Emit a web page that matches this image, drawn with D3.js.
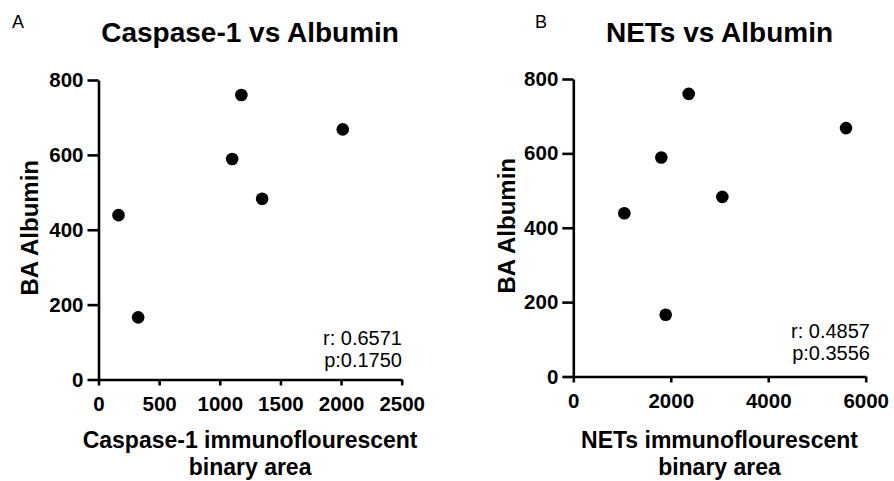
<!DOCTYPE html>
<html>
<head>
<meta charset="utf-8">
<script src="https://cdn.jsdelivr.net/npm/d3@7"></script>
<style>
  body { margin: 0; background: #fff; }
  text { font-family: "Liberation Sans", Arial, Helvetica, sans-serif; fill: #000; }
</style>
</head>
<body>
<svg id="chart" width="894" height="481"></svg>
<script>
"use strict";

// values
var albumin = [439, 166, 589, 760, 483, 668];
var caspase1 = [165, 327, 1102, 1178, 1349, 2014];
var nets = [1047, 1896, 1806, 2368, 3058, 5596];

var yTicks = [0, 200, 400, 600, 800];
var caspaseTicks = [0, 500, 1000, 1500, 2000, 2500];
var netsTicks = [0, 2000, 4000, 6000];

var caspaseStats = ["r: 0.6571", "p:0.1750"];
var netsStats = ["r: 0.4857", "p:0.3556"];

var svg = d3.select("#chart");

function drawPanel(opt) {
  var x = d3.scaleLinear().domain([0, opt.xMax]).range([opt.left, opt.right]);
  var y = d3.scaleLinear().domain([0, 800]).range([opt.bottom, opt.top]);
  var g = svg.append("g");

  g.append("text")
    .attr("x", opt.letterX)
    .attr("y", 28)
    .style("font-size", "18px")
    .text(opt.letter);

  g.append("text")
    .attr("x", (opt.left + opt.right) / 2)
    .attr("y", 42)
    .attr("text-anchor", "middle")
    .style("font-size", "28px")
    .style("font-weight", "bold")
    .text(opt.title);

  var yAxis = g.append("g")
    .attr("transform", "translate(" + opt.left + ",0)")
    .call(d3.axisLeft(y).tickValues(yTicks).tickFormat(d3.format("d"))
      .tickSize(11).tickPadding(4).tickSizeOuter(0));

  var xAxis = g.append("g")
    .attr("transform", "translate(0," + opt.bottom + ")")
    .call(d3.axisBottom(x).tickValues(opt.xTicks).tickFormat(d3.format("d"))
      .tickSize(6).tickPadding(11).tickSizeOuter(0));

  [xAxis, yAxis].forEach(function(ax) {
    ax.selectAll("path, line").attr("stroke", "#000").attr("stroke-width", 2.6);
    ax.selectAll("text")
      .attr("fill", "#000")
      .style("font-size", "20.5px")
      .style("font-weight", "bold")
      .style("font-family", '"Liberation Sans", Arial, Helvetica, sans-serif');
  });

  g.append("text")
    .attr("transform", "translate(" + opt.yLabelX + "," + ((opt.top + opt.bottom) / 2 - 2) + ") rotate(-90)")
    .attr("text-anchor", "middle")
    .style("font-size", "24px")
    .style("font-weight", "bold")
    .text("BA Albumin");

  g.selectAll(".xlabel")
    .data(opt.xLabel)
    .enter().append("text")
    .attr("class", "xlabel")
    .attr("x", (opt.left + opt.right) / 2)
    .attr("y", function(d, i) { return 448 + i * 26.5; })
    .attr("text-anchor", "middle")
    .style("font-size", "23px")
    .style("font-weight", "bold")
    .text(function(d) { return d; });

  g.selectAll(".dot")
    .data(opt.xs)
    .enter().append("circle")
    .attr("class", "dot")
    .attr("cx", function(d) { return x(d); })
    .attr("cy", function(d, i) { return y(albumin[i]); })
    .attr("r", 6.3)
    .attr("fill", "#000");

  g.selectAll(".stat")
    .data(opt.stats)
    .enter().append("text")
    .attr("class", "stat")
    .attr("x", opt.statX)
    .attr("y", function(d, i) { return opt.statY + i * 22; })
    .attr("text-anchor", "end")
    .style("font-size", "20px")
    .text(function(d) { return d; });
}

drawPanel({
  letter: "A", letterX: 12, title: "Caspase-1 vs Albumin",
  left: 98.5, right: 401.7, top: 80, bottom: 379.5,
  xMax: 2500, xTicks: caspaseTicks, xs: caspase1,
  yLabelX: 38, xLabel: ["Caspase-1 immunoflourescent", "binary area"],
  stats: caspaseStats, statX: 402, statY: 345
});

drawPanel({
  letter: "B", letterX: 535, title: "NETs vs Albumin",
  left: 573.3, right: 865.7, top: 79, bottom: 376.5,
  xMax: 6000, xTicks: netsTicks, xs: nets,
  yLabelX: 515, xLabel: ["NETs immunoflourescent", "binary area"],
  stats: netsStats, statX: 870, statY: 338
});
</script>
</body>
</html>
